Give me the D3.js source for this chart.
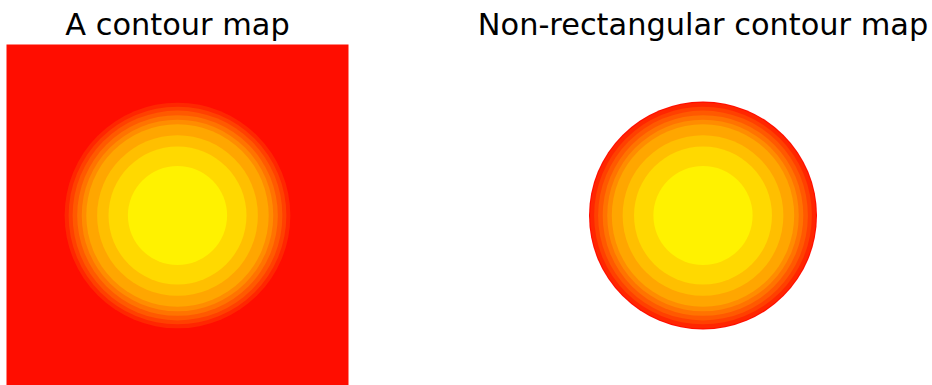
<!DOCTYPE html>
<html>
<head>
<meta charset="utf-8">
<script src="https://cdn.jsdelivr.net/npm/d3@7"></script>
<style>
  body { margin: 0; background: #fff; }
  text { font-family: "DejaVu Sans", sans-serif; }
</style>
</head>
<body>
<div id="chart"></div>
<script>
// filled contour levels, outermost (red) to innermost (yellow) - autumn colormap
var levelColors = ['#ff0d00', '#ff2600', '#ff4000', '#ff5900', '#ff7300',
                   '#ff8c00', '#ffa600', '#ffbf00', '#ffd900', '#fff200'];
// outer radius of each band (data units), band 0 fills the whole area
var bandRadii = [null, 1.98, 1.91, 1.84, 1.76, 1.68, 1.60, 1.41, 1.21, 0.87];
// extent of both axes and the mask of the second one
var axisExtent = [-3, 3];
var maskRadius = 2.0;
var titles = ['A contour map', 'Non-rectangular contour map'];

var width = 932, height = 385;
var size = 342;
var panels = [
  {x: 6.5, y: 44.5, title: titles[0], masked: false},
  {x: 532, y: 44.5, title: titles[1], masked: true}
];

var svg = d3.select('#chart').append('svg')
  .attr('width', width)
  .attr('height', height);

var x = d3.scaleLinear().domain(axisExtent).range([0, size]);
var y = d3.scaleLinear().domain(axisExtent).range([size, 0]);

panels.forEach(function(p, i) {
  var g = svg.append('g')
    .attr('transform', 'translate(' + p.x + ',' + p.y + ')');

  var body = g.append('g');
  if (p.masked) {
    svg.append('clipPath')
      .attr('id', 'mask' + i)
      .append('circle')
      .attr('cx', x(0))
      .attr('cy', y(0))
      .attr('r', x(maskRadius) - x(0));
    body.attr('clip-path', 'url(#mask' + i + ')');
  }

  // lowest level covers the whole plotting area
  body.append('rect')
    .attr('x', x(axisExtent[0]))
    .attr('y', y(axisExtent[1]))
    .attr('width', x(axisExtent[1]) - x(axisExtent[0]))
    .attr('height', y(axisExtent[0]) - y(axisExtent[1]))
    .attr('fill', levelColors[0]);

  body.selectAll('circle.band')
    .data(d3.range(1, levelColors.length))
    .enter()
    .append('circle')
    .attr('class', 'band')
    .attr('cx', x(0))
    .attr('cy', y(0))
    .attr('r', function(d) { return x(bandRadii[d]) - x(0); })
    .attr('fill', function(d) { return levelColors[d]; });

  svg.append('text')
    .attr('x', p.x + size / 2)
    .attr('y', 34.5)
    .attr('text-anchor', 'middle')
    .attr('fill', '#000')
    .style('font-size', '30.4px')
    .text(p.title);
});
</script>
</body>
</html>
